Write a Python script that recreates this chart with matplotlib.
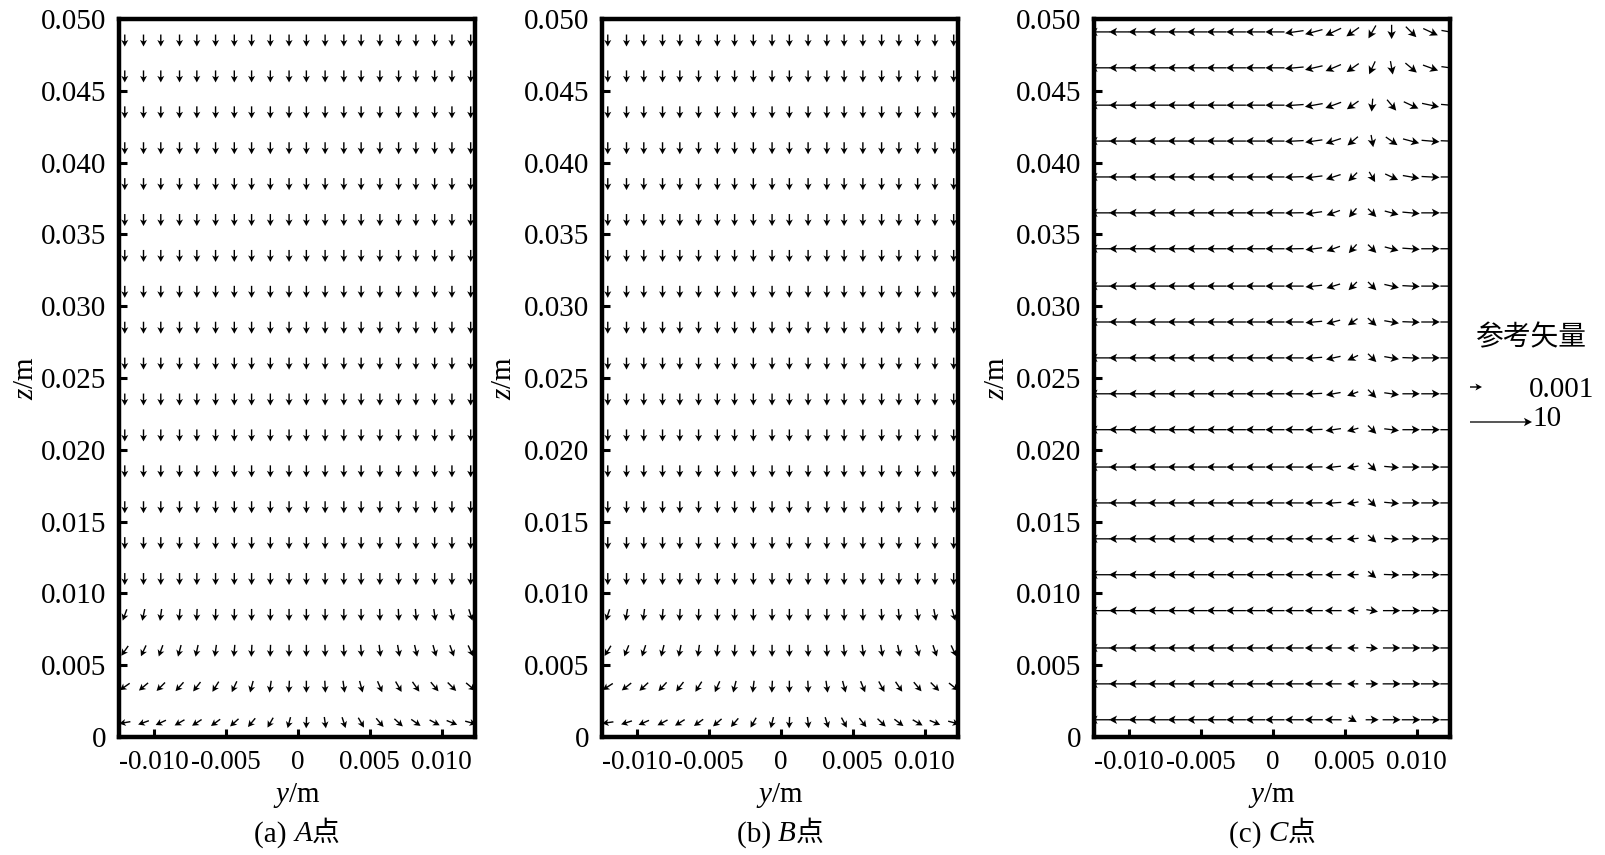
import numpy as np
import matplotlib
matplotlib.use('Agg')
import matplotlib.pyplot as plt
from matplotlib.offsetbox import TextArea, HPacker, AnnotationBbox

plt.rcParams['font.family'] = ['Liberation Serif', 'Noto Sans CJK SC', 'DejaVu Sans']
plt.rcParams['mathtext.fontset'] = 'custom'
plt.rcParams['mathtext.rm'] = 'Liberation Serif'
plt.rcParams['mathtext.it'] = 'Liberation Serif:italic'

# ---------------- data ----------------
# sampling grid of panels (a) and (b)
Y_AB = [-0.0120, -0.0107, -0.0095, -0.0082, -0.0070, -0.0057, -0.0044, -0.0032, -0.0019, -0.0006,
        0.0006, 0.0019, 0.0032, 0.0044, 0.0057, 0.0070, 0.0082, 0.0095, 0.0107, 0.0120]
Z_AB = [0.0010, 0.0035, 0.0060, 0.0085, 0.0110, 0.0135, 0.0160, 0.0185, 0.0210, 0.0235,
        0.0260, 0.0285, 0.0310, 0.0335, 0.0360, 0.0385, 0.0410, 0.0435, 0.0460, 0.0485]
# sampling grid of panel (c)
Y_C = [-0.0120, -0.01065, -0.0093, -0.00795, -0.0066, -0.00525, -0.0039, -0.00255, -0.0012, 0.00015,
       0.0015, 0.00285, 0.0042, 0.00555, 0.0069, 0.00825, 0.0096, 0.01095, 0.0123]
Z_C = [0.0012, 0.0037, 0.0062, 0.0088, 0.0113, 0.0138, 0.0163, 0.0188, 0.0214, 0.0239,
       0.0264, 0.0289, 0.0314, 0.0340, 0.0365, 0.0390, 0.0415, 0.0440, 0.0466, 0.0491]

XTICKS = [-0.010, -0.005, 0.0, 0.005, 0.010]
XTICK_LABELS = ['-0.010', '-0.005', '0', '0.005', '0.010']
ZTICKS = [0.0, 0.005, 0.010, 0.015, 0.020, 0.025, 0.030, 0.035, 0.040, 0.045, 0.050]
ZTICK_LABELS = ['0', '0.005', '0.010', '0.015', '0.020', '0.025', '0.030', '0.035', '0.040', '0.045', '0.050']

# Panel (a): flow direction (deg, ccw from +y) in the four lowest rows; rows above point straight down
A_DIR_LOW = [
    [190, 200, 205, 210, 213, 216, 222, 230, 240, 255, 268, 278, 288, 300, 310, 318, 325, 332, 338, 345],
    [215, 220, 225, 228, 232, 238, 245, 255, 262, 267, 270, 273, 278, 285, 293, 300, 305, 310, 315, 320],
    [235, 245, 250, 255, 258, 262, 265, 267, 268, 270, 270, 272, 273, 275, 277, 280, 283, 286, 290, 295],
    [250, 258, 262, 265, 267, 268, 269, 270, 270, 270, 270, 270, 270, 271, 272, 273, 275, 278, 282, 288],
]
A_SPEED_LOW = [0.00095, 0.00100, 0.00100, 0.00100]   # m/s, per row
A_DIR_UPPER = 270.0
A_SPEED_UPPER = 0.00100

# Panel (b)
B_DIR_LOW = [
    [188, 198, 204, 208, 212, 216, 221, 229, 240, 256, 268, 277, 287, 298, 308, 316, 323, 330, 337, 345],
    [213, 218, 223, 227, 232, 238, 246, 256, 263, 267, 270, 273, 278, 285, 292, 298, 304, 310, 315, 322],
    [238, 248, 252, 256, 259, 262, 265, 267, 268, 270, 270, 272, 273, 275, 277, 279, 282, 285, 289, 295],
    [252, 260, 263, 265, 267, 268, 269, 270, 270, 270, 270, 270, 270, 271, 272, 273, 275, 277, 281, 287],
]
B_SPEED_LOW = [0.00095, 0.00100, 0.00100, 0.00100]
B_DIR_UPPER = 270.0
B_SPEED_UPPER = 0.00100

# Panel (c): columns 0-9 flow leftwards in every row
C_SPEED_LEFT = [3.3, 3.3, 3.3, 3.3, 3.25, 3.25, 3.2, 3.2, 3.15, 3.1]
C_DIR_LEFT = 180.0
# columns 10-18, rows from bottom (z=0.0012) to top (z=0.0491)
C_DIR_RIGHT = [
    [180, 180, 180, 330, 0, 0, 0, 0, 0],
    [180, 180, 180, 180, 0, 0, 0, 0, 0],
    [180, 180, 180, 180, 355, 0, 0, 0, 0],
    [180, 180, 180, 180, 350, 0, 0, 0, 0],
    [180, 180, 181, 182, 320, 358, 0, 0, 0],
    [180, 180, 182, 185, 318, 357, 0, 0, 0],
    [180, 181, 184, 190, 315, 355, 0, 0, 0],
    [180, 181, 186, 190, 315, 355, 0, 0, 0],
    [180, 182, 188, 195, 315, 353, 0, 0, 0],
    [180, 183, 190, 200, 315, 352, 0, 0, 0],
    [180, 184, 192, 205, 315, 350, 358, 0, 0],
    [180, 185, 195, 215, 318, 350, 358, 0, 0],
    [180, 186, 197, 225, 315, 347, 357, 0, 0],
    [181, 187, 200, 228, 315, 345, 356, 0, 0],
    [181, 188, 200, 230, 315, 345, 355, 0, 0],
    [182, 187, 198, 225, 300, 335, 350, 357, 0],
    [183, 188, 198, 220, 280, 325, 345, 355, 358],
    [184, 190, 200, 215, 265, 310, 335, 348, 355],
    [185, 193, 203, 215, 245, 280, 320, 340, 352],
    [188, 195, 205, 215, 240, 270, 315, 335, 350],
]
C_SPEED_RIGHT = [
    [3.0, 2.9, 2.7, 1.5, 2.1, 2.9, 3.0, 3.1, 3.1],
    [3.0, 2.9, 2.7, 1.8, 2.0, 2.9, 3.0, 3.1, 3.1],
    [3.0, 2.9, 2.7, 1.8, 1.9, 2.8, 3.0, 3.1, 3.1],
    [3.0, 2.9, 2.7, 1.8, 1.9, 2.8, 3.0, 3.1, 3.1],
    [3.0, 2.8, 2.6, 1.9, 1.7, 2.5, 2.9, 3.0, 3.1],
    [3.0, 2.8, 2.6, 1.9, 1.8, 2.4, 2.8, 3.0, 3.1],
    [3.0, 2.8, 2.6, 1.9, 1.8, 2.4, 2.8, 3.0, 3.1],
    [3.0, 2.8, 2.5, 1.9, 1.9, 2.4, 2.8, 3.0, 3.1],
    [3.0, 2.8, 2.5, 1.9, 1.9, 2.4, 2.8, 3.0, 3.1],
    [3.0, 2.7, 2.4, 1.9, 1.9, 2.4, 2.8, 3.0, 3.1],
    [3.0, 2.7, 2.4, 1.9, 1.9, 2.4, 2.8, 3.0, 3.1],
    [3.0, 2.7, 2.3, 1.9, 1.9, 2.4, 2.8, 3.0, 3.1],
    [3.0, 2.7, 2.3, 1.9, 1.9, 2.4, 2.8, 3.0, 3.1],
    [3.0, 2.7, 2.3, 1.9, 1.9, 2.3, 2.8, 3.0, 3.1],
    [3.0, 2.7, 2.3, 1.9, 1.9, 2.3, 2.8, 3.0, 3.1],
    [3.0, 2.8, 2.5, 2.0, 1.9, 2.3, 2.7, 2.9, 3.0],
    [3.0, 2.8, 2.6, 2.2, 2.0, 2.3, 2.7, 2.9, 3.0],
    [3.0, 2.9, 2.7, 2.3, 2.1, 2.3, 2.6, 2.8, 2.9],
    [3.0, 2.9, 2.7, 2.4, 2.3, 2.2, 2.4, 2.6, 2.8],
    [3.0, 2.9, 2.8, 2.5, 2.4, 2.3, 2.4, 2.6, 2.8],
]

KEY_TITLE = '参考矢量'
KEY_SMALL = 0.001
KEY_LARGE = 10
PANEL_TAGS = [('(a) ', 'A'), ('(b) ', 'B'), ('(c) ', 'C')]


# ---------------- assemble vector fields ----------------
def field_ab(dir_low, speed_low, dir_up, speed_up):
    nz, ny = len(Z_AB), len(Y_AB)
    ang = np.full((nz, ny), dir_up, dtype=float)
    spd = np.full((nz, ny), speed_up, dtype=float)
    for j, row in enumerate(dir_low):
        ang[j, :] = row
        spd[j, :] = speed_low[j]
    r = np.deg2rad(ang)
    return spd * np.cos(r), spd * np.sin(r)


def field_c():
    ang = np.array([[C_DIR_LEFT] * len(C_SPEED_LEFT) + list(r) for r in C_DIR_RIGHT], dtype=float)
    spd = np.array([list(C_SPEED_LEFT) + list(r) for r in C_SPEED_RIGHT], dtype=float)
    r = np.deg2rad(ang)
    return spd * np.cos(r), spd * np.sin(r)


UA, WA = field_ab(A_DIR_LOW, A_SPEED_LOW, A_DIR_UPPER, A_SPEED_UPPER)
UB, WB = field_ab(B_DIR_LOW, B_SPEED_LOW, B_DIR_UPPER, B_SPEED_UPPER)
UC, WC = field_c()

# ---------------- figure ----------------
W_PX, H_PX = 1605, 855
fig = plt.figure(figsize=(W_PX / 100, H_PX / 100), dpi=100, facecolor='white')

bottom = 1 - 737 / H_PX
height = 718 / H_PX
width = 356 / W_PX
lefts = [119 / W_PX, 602 / W_PX, 1094 / W_PX]
ylabel_x = [-0.226, -0.239, -0.236]

axes = []
for i, lx in enumerate(lefts):
    ax = fig.add_axes([lx, bottom, width, height])
    ax.set_xlim(-0.0124, 0.0123)
    ax.set_ylim(0, 0.050)
    for s in ax.spines.values():
        s.set_linewidth(3.2)
        s.set_zorder(5)
    ax.set_xticks(XTICKS)
    ax.set_xticklabels(XTICK_LABELS)
    ax.set_yticks(ZTICKS)
    ax.set_yticklabels(ZTICK_LABELS)
    ax.tick_params(direction='in', length=5.8, width=2.2, pad=9, top=False, right=False)
    ax.tick_params(axis='x', labelsize=19.5)
    ax.tick_params(axis='y', labelsize=21)
    ax.set_ylabel('$z$/m', fontsize=21)
    ax.yaxis.set_label_coords(ylabel_x[i], 0.5)
    ax.text(0.5, -0.0905, '$y$/m', transform=ax.transAxes, fontsize=21,
            ha='center', va='baseline')
    tag, letter = PANEL_TAGS[i]
    parts = [TextArea(tag, textprops=dict(family='Liberation Serif', size=21)),
             TextArea(letter, textprops=dict(family='Liberation Serif', style='italic', size=21)),
             TextArea('点', textprops=dict(family='Noto Sans CJK SC', size=20))]
    box = HPacker(children=parts, align='baseline', pad=0, sep=0)
    ab = AnnotationBbox(box, (0.5, -0.134), xycoords='axes fraction', frameon=False,
                        box_alignment=(0.5, 0.5), pad=0, annotation_clip=False)
    ax.add_artist(ab)
    axes.append(ax)

qkw_ab = dict(pivot='middle', angles='uv', scale_units='inches', scale=0.001 / 0.12,
              units='dots', width=1.4, headwidth=5.0, headlength=4.7, headaxislength=3.7,
              minlength=0.05, color='black', zorder=2)
QA = axes[0].quiver(Y_AB, Z_AB, UA, WA, **qkw_ab)
QB = axes[1].quiver(Y_AB, Z_AB, UB, WB, **qkw_ab)
QC = axes[2].quiver(Y_C, Z_C, UC, WC, pivot='middle', angles='uv', scale_units='inches',
                    scale=10 / 0.62, units='dots', width=1.3, headwidth=6.5, headlength=6.2,
                    headaxislength=4.9, minlength=0.05, color='black', zorder=2)

# reference vectors
axes[0].quiverkey(QA, 1482 / W_PX, 1 - 387 / H_PX, KEY_SMALL, ' ', labelpos='E',
                  coordinates='figure')
axes[2].quiverkey(QC, 1532 / W_PX, 1 - 422 / H_PX, KEY_LARGE, ' ', labelpos='E',
                  coordinates='figure')
fig.text(1531 / W_PX, 1 - 337 / H_PX, KEY_TITLE, family='Noto Sans CJK SC', fontsize=20,
         ha='center', va='center')
fig.text(1529 / W_PX, 1 - 390 / H_PX, f'{KEY_SMALL:.3f}', fontsize=21, ha='left', va='center')
fig.text(1532 / W_PX, 1 - 419 / H_PX, f'{KEY_LARGE}', fontsize=21, ha='left', va='center')

fig.savefig('out.png', dpi=100, facecolor='white')
